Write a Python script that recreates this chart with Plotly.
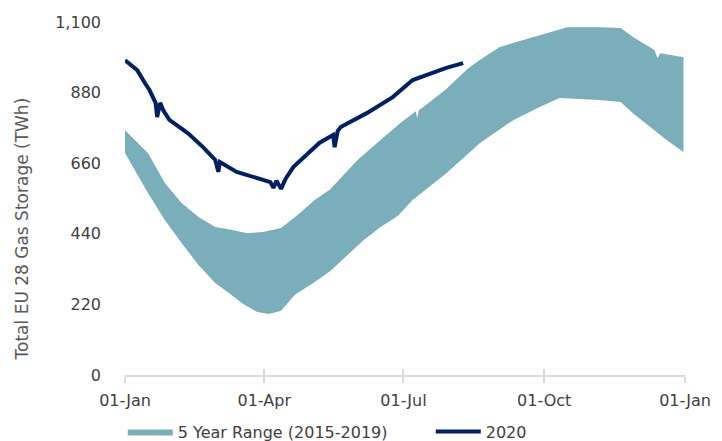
import plotly.graph_objects as go

# 5-year range upper envelope (max of 2015-2019)
upper_dates = ["2020-01-01", "2020-01-16", "2020-01-27", "2020-02-07", "2020-02-18", "2020-02-29",
               "2020-03-11", "2020-03-21", "2020-04-01", "2020-04-12", "2020-04-23", "2020-05-04",
               "2020-05-14", "2020-06-01", "2020-06-16", "2020-06-29", "2020-07-09", "2020-07-10",
               "2020-07-11", "2020-07-14", "2020-07-29", "2020-08-12", "2020-08-20", "2020-09-02",
               "2020-09-24", "2020-10-16", "2020-11-06", "2020-11-20", "2020-11-28", "2020-12-07",
               "2020-12-12", "2020-12-14", "2020-12-16", "2020-12-31"]
upper_vals = [763, 692, 598, 536, 492, 461,
              452, 442, 446, 458, 499, 545,
              578, 670, 732, 785, 822, 800,
              825, 835, 891, 954, 982, 1022,
              1053, 1084, 1084, 1081, 1053, 1028,
              1013, 988, 1003, 990]

# 5-year range lower envelope (min of 2015-2019)
lower_dates = ["2020-01-01", "2020-01-16", "2020-01-27", "2020-02-07", "2020-02-18", "2020-02-29",
               "2020-03-10", "2020-03-18", "2020-03-27", "2020-04-04", "2020-04-12", "2020-04-21",
               "2020-05-04", "2020-05-14", "2020-06-05", "2020-06-16", "2020-06-27", "2020-07-07",
               "2020-07-29", "2020-08-20", "2020-09-11", "2020-09-28", "2020-10-11", "2020-11-06",
               "2020-11-20", "2020-11-28", "2020-12-09", "2020-12-20", "2020-12-31"]
lower_vals = [692, 567, 483, 411, 343, 287,
              252, 222, 197, 190, 200, 250,
              290, 323, 421, 461, 495, 545,
              629, 723, 795, 835, 863, 857,
              851, 816, 773, 732, 695]

# 2020 storage
y2020_dates = ["2020-01-01", "2020-01-09", "2020-01-14", "2020-01-17", "2020-01-21", "2020-01-22",
               "2020-01-24", "2020-01-26", "2020-01-30", "2020-02-11", "2020-02-21", "2020-02-29",
               "2020-03-02", "2020-03-03", "2020-03-14", "2020-03-25", "2020-04-02", "2020-04-05",
               "2020-04-07", "2020-04-09", "2020-04-12", "2020-04-15", "2020-04-20", "2020-04-29",
               "2020-05-07", "2020-05-16", "2020-05-17", "2020-05-19", "2020-05-21", "2020-06-07",
               "2020-06-24", "2020-07-07", "2020-07-20", "2020-07-29", "2020-08-09"]
y2020_vals = [981, 950, 910, 888, 848, 804,
              848, 825, 795, 754, 710, 670,
              633, 664, 633, 617, 608, 601,
              583, 605, 580, 612, 648, 686,
              723, 748, 710, 760, 773, 816,
              866, 919, 941, 957, 972]

y_ticks = [0, 220, 440, 660, 880, 1100]
x_range = ["2020-01-01", "2021-01-01"]
y_title = "Total EU 28 Gas Storage (TWh)"

band_x = upper_dates + lower_dates[::-1]
band_y = upper_vals + lower_vals[::-1]

FONT = "DejaVu Sans, sans-serif"
TXT = "#404040"

fig = go.Figure()
fig.add_trace(go.Scatter(
    x=band_x, y=band_y, fill="toself", mode="lines",
    line=dict(width=0, color="#7AAEBA"), fillcolor="#7AAEBA",
    name="5 Year Range (2015-2019)", hoverinfo="skip", legend="legend"))
fig.add_trace(go.Scatter(
    x=y2020_dates, y=y2020_vals, mode="lines",
    line=dict(width=4, color="#002060"), name="2020", legend="legend2"))
# invisible trace on overlay axis for inner tick marks
fig.add_trace(go.Scatter(x=x_range, y=[None, None], xaxis="x2", showlegend=False,
                         mode="lines", hoverinfo="skip"))

legend_common = dict(orientation="h", xanchor="left", yanchor="top",
                     xref="paper", yref="paper", y=-0.112,
                     font=dict(size=16, color=TXT), itemwidth=45,
                     bgcolor="rgba(0,0,0,0)")

fig.update_layout(
    width=722, height=441,
    margin=dict(l=125, r=37, t=22, b=66, autoexpand=False),
    paper_bgcolor="white", plot_bgcolor="white",
    font=dict(family=FONT, size=16, color=TXT),
    showlegend=True,
    legend=dict(x=-0.004, **legend_common),
    legend2=dict(x=0.546, **legend_common),
    xaxis=dict(type="date", range=x_range, dtick="M3", tick0="2020-01-01",
               tickformat="%d-%b", showgrid=False, zeroline=False, automargin=False,
               showline=True, linecolor="#D9D9D9", linewidth=2,
               ticks="outside", ticklen=6, tickwidth=2, tickcolor="#D9D9D9",
               ticklabelstandoff=4, tickfont=dict(size=16, color=TXT)),
    xaxis2=dict(type="date", range=x_range, dtick="M3", tick0="2020-01-01",
                overlaying="x", anchor="y", side="bottom", showticklabels=False,
                showgrid=False, zeroline=False, showline=False, automargin=False,
                ticks="inside", ticklen=6, tickwidth=2, tickcolor="#D9D9D9"),
    yaxis=dict(range=[0, 1100], tickvals=y_ticks, tickformat=",", showgrid=False,
               zeroline=False, showline=False, ticks="", ticklabelstandoff=23,
               automargin=False, tickfont=dict(size=16, color=TXT)),
    annotations=[dict(text=y_title, textangle=-90, xref="paper", yref="paper",
                      x=-0.184, y=0.415, xanchor="center", yanchor="middle",
                      showarrow=False, font=dict(size=17, color="#595959"))],
)

fig.write_html("out.html", config={"displayModeBar": False},
               post_script="document.body.style.margin='0';")
